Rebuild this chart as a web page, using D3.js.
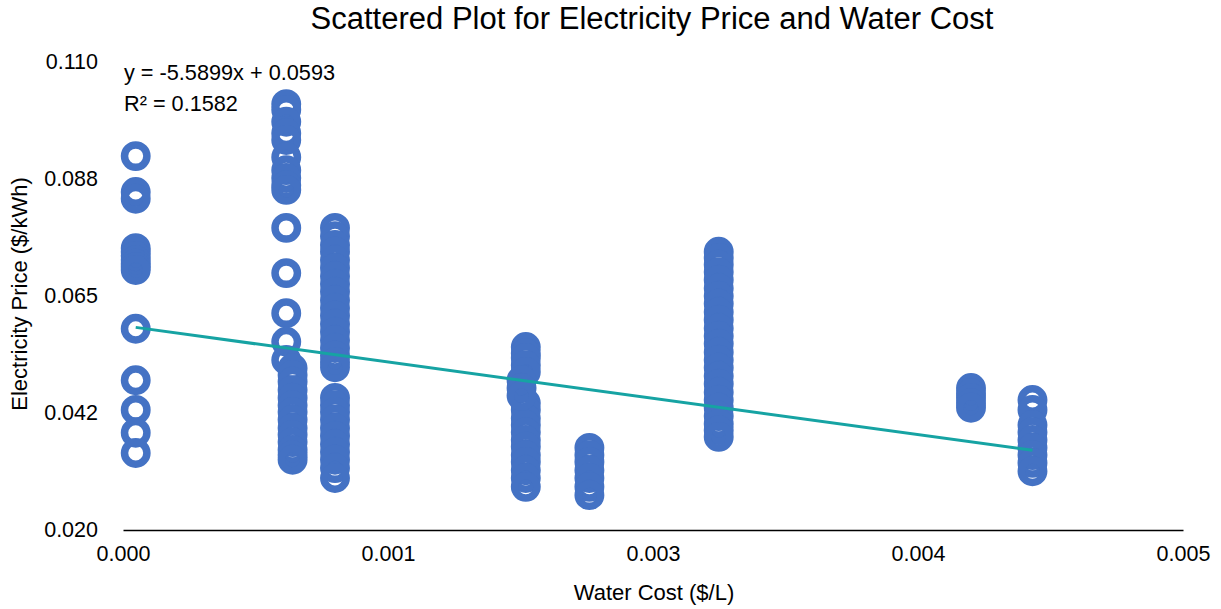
<!DOCTYPE html>
<html>
<head>
<meta charset="utf-8">
<script src="https://cdn.jsdelivr.net/npm/d3@7"></script>
<style>
  body { margin: 0; background: #fff; }
  text { font-family: "Liberation Sans", Arial, Helvetica, sans-serif; fill: #000; }
</style>
</head>
<body>
<script>
// water cost ($/L) per column of points
const waterCost = [0.00006, 0.00077, 0.00080, 0.00100, 0.00190, 0.00188, 0.00220, 0.00281, 0.00400, 0.00429];

// electricity price ($/kWh) per column, same order as waterCost
const priceCol1 = [0.0919, 0.0850, 0.0837, 0.0742, 0.0735, 0.0727, 0.0719, 0.0712, 0.0706, 0.0700, 0.0587, 0.0488, 0.0431, 0.0387, 0.0348];
const priceCol2 = [0.1019, 0.1008, 0.0985, 0.0963, 0.0950, 0.0917, 0.0892, 0.0877, 0.0863, 0.0854, 0.0781, 0.0694, 0.0617, 0.0562, 0.0527];
const priceCol3 = [0.0511, 0.0498, 0.0485, 0.0469, 0.0454, 0.0440, 0.0427, 0.0412, 0.0396, 0.0383, 0.0369, 0.0354, 0.0344, 0.0335];
const priceCol4 = [0.0781, 0.0765, 0.0748, 0.0735, 0.0719, 0.0704, 0.0688, 0.0673, 0.0658, 0.0642, 0.0627, 0.0612, 0.0596, 0.0581, 0.0565, 0.0550, 0.0535, 0.0523, 0.0513,
                   0.0454, 0.0440, 0.0427, 0.0412, 0.0396, 0.0381, 0.0365, 0.0350, 0.0335, 0.0319, 0.0300];
const priceCol5 = [0.0552, 0.0540, 0.0531, 0.0517, 0.0504, 0.0444, 0.0431, 0.0415, 0.0402, 0.0388, 0.0373, 0.0360, 0.0344, 0.0331, 0.0315, 0.0300, 0.0283];
const priceCol6 = [0.0488, 0.0473, 0.0458];
const priceCol7 = [0.0358, 0.0344, 0.0331, 0.0315, 0.0300, 0.0283, 0.0267];
const priceCol8 = [0.0735, 0.0723, 0.0710, 0.0696, 0.0681, 0.0665, 0.0650, 0.0635, 0.0619, 0.0604, 0.0588, 0.0573, 0.0558, 0.0542,
                   0.0527, 0.0512, 0.0496, 0.0481, 0.0465, 0.0450, 0.0435, 0.0419, 0.0404, 0.0392, 0.0379];
const priceCol9 = [0.0473, 0.0463, 0.0454, 0.0444, 0.0435];
const priceCol10 = [0.0450, 0.0431, 0.0402, 0.0388, 0.0373, 0.0358, 0.0344, 0.0329, 0.0313];
const priceCols = [priceCol1, priceCol2, priceCol3, priceCol4, priceCol5, priceCol6, priceCol7, priceCol8, priceCol9, priceCol10];

// trend line from the chart
const slope = -5.5899;
const intercept = 0.0593;
const rSquared = 0.1582;

const xTicks = [0, 0.00125, 0.0025, 0.00375, 0.005];
const xTickLabels = ["0.000", "0.001", "0.003", "0.004", "0.005"];
const yTicks = [0.020, 0.0425, 0.065, 0.0875, 0.110];
const yTickLabels = ["0.020", "0.042", "0.065", "0.088", "0.110"];

const points = [];
priceCols.forEach((col, i) => col.forEach(v => points.push({ x: waterCost[i], y: v })));

const width = 1221, height = 609;
const margin = { top: 62, right: 38, bottom: 79, left: 123 };

const svg = d3.select("body").append("svg")
  .attr("width", width)
  .attr("height", height);

const x = d3.scaleLinear().domain([0, 0.005]).range([margin.left, width - margin.right]);
const y = d3.scaleLinear().domain([0.020, 0.110]).range([height - margin.bottom, margin.top]);

// title
svg.append("text")
  .attr("x", 652).attr("y", 29)
  .attr("text-anchor", "middle")
  .style("font-size", "31px")
  .text("Scattered Plot for Electricity Price and Water Cost");

// x axis
const xAxis = svg.append("g")
  .attr("transform", "translate(0," + y(0.020) + ")")
  .call(d3.axisBottom(x).tickValues(xTicks).tickSize(0).tickPadding(16)
    .tickFormat((d, i) => xTickLabels[i]));
xAxis.select(".domain").attr("stroke", "#000").attr("stroke-width", 1.6);
xAxis.selectAll("text").style("font-size", "21.5px");

// y axis (labels only)
const yAxis = svg.append("g")
  .attr("transform", "translate(" + (margin.left - 25) + ",0)")
  .call(d3.axisLeft(y).tickValues(yTicks).tickSize(0).tickPadding(0)
    .tickFormat((d, i) => yTickLabels[i]));
yAxis.select(".domain").remove();
yAxis.selectAll("text").style("font-size", "21.5px");

// axis titles
svg.append("text")
  .attr("x", 654).attr("y", 600)
  .attr("text-anchor", "middle")
  .style("font-size", "22px")
  .text("Water Cost ($/L)");

svg.append("text")
  .attr("transform", "translate(27,294) rotate(-90)")
  .attr("text-anchor", "middle")
  .style("font-size", "22px")
  .text("Electricity Price ($/kWh)");

// points
svg.append("g").selectAll("circle")
  .data(points)
  .join("circle")
  .attr("cx", d => x(d.x))
  .attr("cy", d => y(d.y))
  .attr("r", 11.2)
  .attr("fill", "none")
  .attr("stroke", "#4472C4")
  .attr("stroke-width", 7.5);

// trend line
const xExt = d3.extent(points, d => d.x);
svg.append("path")
  .datum(xExt.map(v => ({ x: v, y: slope * v + intercept })))
  .attr("fill", "none")
  .attr("stroke", "#16A3A3")
  .attr("stroke-width", 3)
  .attr("d", d3.line().x(d => x(d.x)).y(d => y(d.y)));

// equation
svg.append("text")
  .attr("x", 124).attr("y", 80)
  .style("font-size", "21.7px")
  .text("y = " + slope + "x + " + intercept);
svg.append("text")
  .attr("x", 124).attr("y", 111)
  .style("font-size", "21.7px")
  .text("R² = " + rSquared);
</script>
</body>
</html>
